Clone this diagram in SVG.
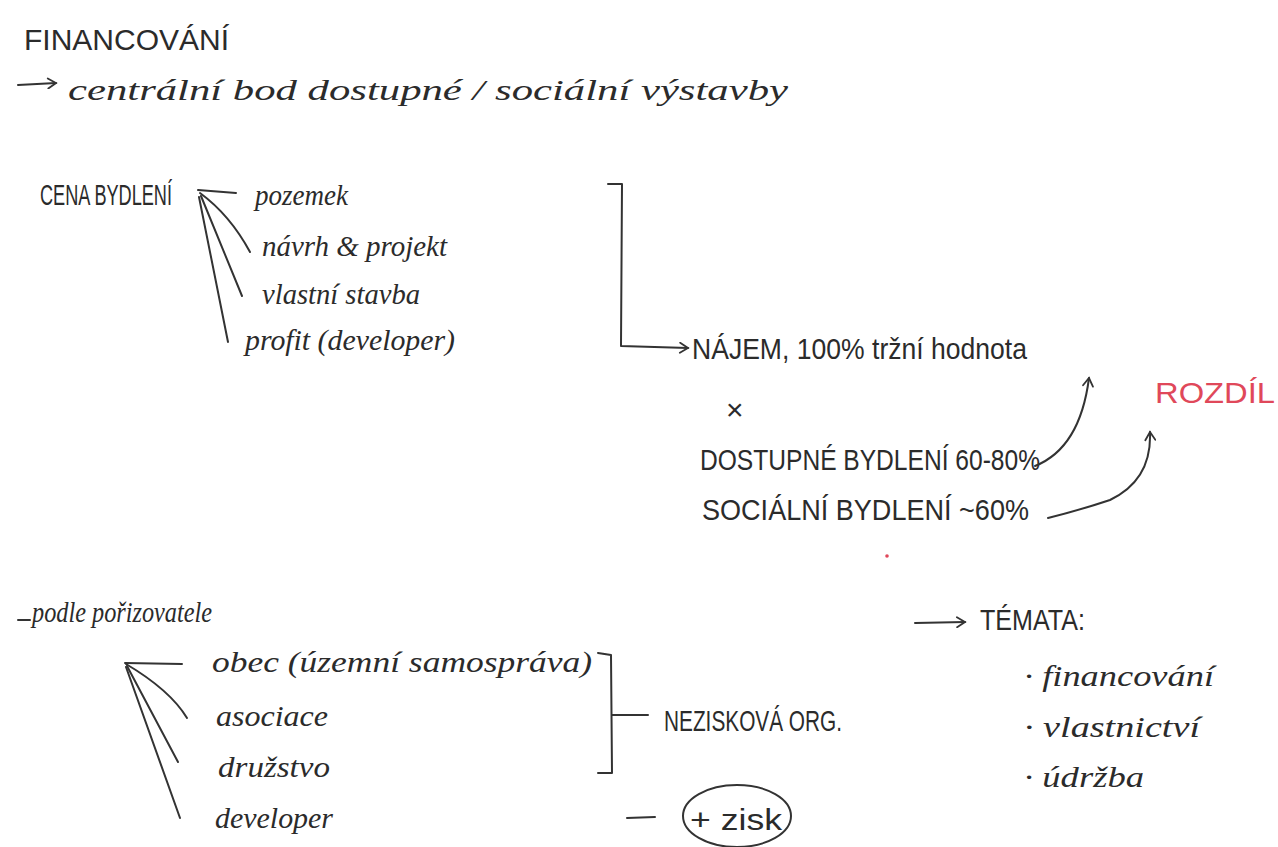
<svg xmlns="http://www.w3.org/2000/svg" width="1278" height="847" viewBox="0 0 1278 847">
<defs>
<style>
.caps{font-family:"Liberation Sans","DejaVu Sans",sans-serif;fill:#2b2b2b;font-size:30px}
.hand{font-family:"Liberation Serif","DejaVu Serif",serif;font-style:italic;fill:#2b2b2b;font-size:30px}
.red{fill:#e0485a}
.ln{fill:none;stroke:#333;stroke-width:2;stroke-linecap:round;stroke-linejoin:round}
</style>
<marker id="ah" viewBox="0 0 12 12" refX="10" refY="6" markerWidth="12" markerHeight="12" markerUnits="userSpaceOnUse" orient="auto">
<path d="M2,1 L10,6 L2,11" fill="none" stroke="#333" stroke-width="1.8" stroke-linecap="round"/>
</marker>
</defs>
<rect width="1278" height="847" fill="#fff"/>

<g id="title">
<text class="caps" x="24" y="50" font-size="31" textLength="205" lengthAdjust="spacingAndGlyphs">FINANCOVÁNÍ</text>
</g>
<g id="subtitle">
<text class="hand" x="68" y="100" font-size="36" textLength="720" lengthAdjust="spacingAndGlyphs">centrální bod dostupné / sociální výstavby</text>
</g>

<g id="cena-bydleni">
<text class="caps" x="40" y="205" font-size="25" textLength="132" lengthAdjust="spacingAndGlyphs">CENA BYDLENÍ</text>
</g>
<g id="pozemek"><text class="hand" x="255" y="205" textLength="93" lengthAdjust="spacingAndGlyphs">pozemek</text></g>
<g id="navrh"><text class="hand" x="262" y="256" textLength="185" lengthAdjust="spacingAndGlyphs">návrh &amp; projekt</text></g>
<g id="vlastni"><text class="hand" x="262" y="304" textLength="158" lengthAdjust="spacingAndGlyphs">vlastní stavba</text></g>
<g id="profit"><text class="hand" x="245" y="350" textLength="210" lengthAdjust="spacingAndGlyphs">profit (developer)</text></g>

<g id="najem"><text class="caps" x="692" y="359" textLength="335" lengthAdjust="spacingAndGlyphs">NÁJEM, 100% tržní hodnota</text></g>
<g id="krat"><text class="caps" x="726" y="420" font-size="36">×</text></g>
<g id="dostupne"><text class="caps" x="700" y="470" textLength="340" lengthAdjust="spacingAndGlyphs">DOSTUPNÉ BYDLENÍ  60-80%</text></g>
<g id="socialni"><text class="caps" x="702" y="520" textLength="327" lengthAdjust="spacingAndGlyphs">SOCIÁLNÍ BYDLENÍ  ~60%</text></g>
<g id="rozdil"><text class="caps red" x="1155" y="403" textLength="120" lengthAdjust="spacingAndGlyphs">ROZDÍL</text></g>
<g id="red-dot"><circle cx="887" cy="556" r="1.8" fill="#e0485a"/></g>

<g id="podle"><text class="hand" x="32" y="622" textLength="180" lengthAdjust="spacingAndGlyphs">podle pořizovatele</text></g>
<g id="obec"><text class="hand" x="212" y="672" textLength="380" lengthAdjust="spacingAndGlyphs">obec (územní samospráva)</text></g>
<g id="asociace"><text class="hand" x="216" y="726" textLength="112" lengthAdjust="spacingAndGlyphs">asociace</text></g>
<g id="druzstvo"><text class="hand" x="218" y="777" textLength="112" lengthAdjust="spacingAndGlyphs">družstvo</text></g>
<g id="developer"><text class="hand" x="215" y="828" textLength="118" lengthAdjust="spacingAndGlyphs">developer</text></g>

<g id="neziskova"><text class="caps" x="664" y="731" textLength="178" lengthAdjust="spacingAndGlyphs">NEZISKOVÁ ORG.</text></g>
<g id="zisk">
<ellipse cx="737" cy="816" rx="54" ry="31" fill="none" stroke="#333" stroke-width="2"/>
<text class="caps" x="690" y="830" font-size="32" textLength="92" lengthAdjust="spacingAndGlyphs">+ zisk</text>
</g>

<g id="temata"><text class="caps" x="980" y="630" textLength="105" lengthAdjust="spacingAndGlyphs">TÉMATA:</text></g>
<g id="financovani"><text class="hand" x="1024" y="686" textLength="190" lengthAdjust="spacingAndGlyphs">· financování</text></g>
<g id="vlastnictvi"><text class="hand" x="1024" y="737" textLength="176" lengthAdjust="spacingAndGlyphs">· vlastnictví</text></g>
<g id="udrzba"><text class="hand" x="1024" y="787" textLength="120" lengthAdjust="spacingAndGlyphs">· údržba</text></g>

<g id="connectors">
<path class="ln" d="M18,85 L56,83" marker-end="url(#ah)"/>
<path class="ln" d="M198,190 L236,193"/>
<path class="ln" d="M200,193 Q230,215 250,252"/>
<path class="ln" d="M201,196 L242,296"/>
<path class="ln" d="M199,197 L228,342"/>
<path class="ln" d="M608,184 L622,184 L621,346 L688,348" marker-end="url(#ah)"/>
<path class="ln" d="M1035,466 Q1080,448 1089,378" marker-end="url(#ah)"/>
<path class="ln" d="M1048,518 Q1080,510 1110,500 Q1152,480 1150,432" marker-end="url(#ah)"/>
<path class="ln" d="M18,620 L30,620"/>
<path class="ln" d="M125,663 L182,664"/>
<path class="ln" d="M126,664 Q170,690 187,718"/>
<path class="ln" d="M127,666 L178,762"/>
<path class="ln" d="M126,667 L180,818"/>
<path class="ln" d="M598,653 L611,655 L612,773 L598,773"/>
<path class="ln" d="M612,715 L648,715"/>
<path class="ln" d="M627,818 L655,817"/>
<path class="ln" d="M915,623 L965,622" marker-end="url(#ah)"/>
</g>
</svg>
